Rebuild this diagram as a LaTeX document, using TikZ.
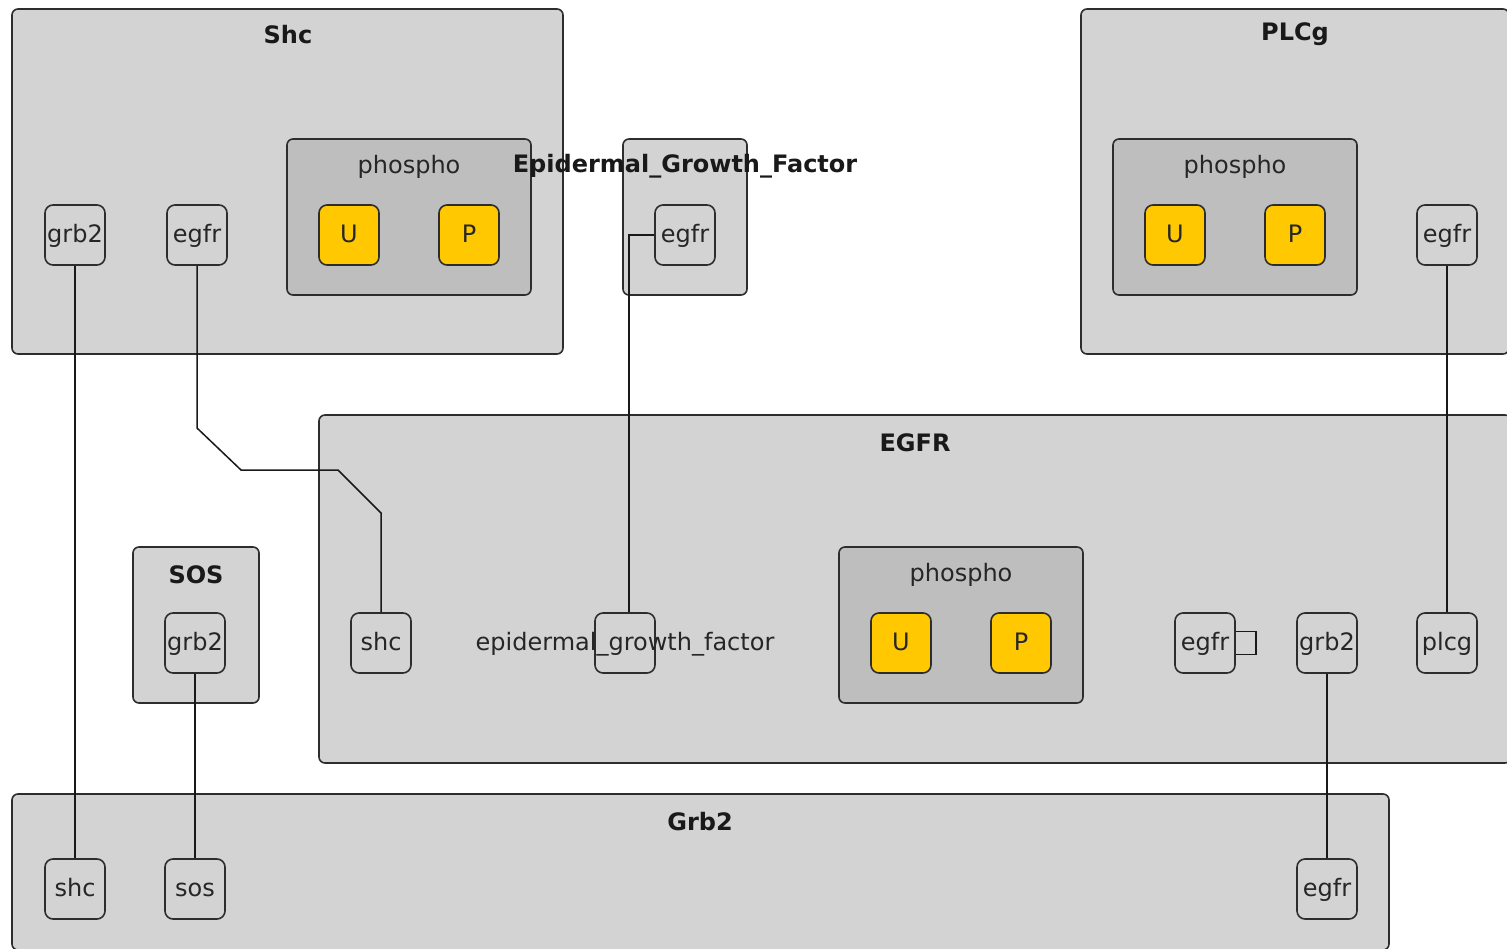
\documentclass[tikz,border=0pt]{standalone}
\usepackage{fontspec}
\setmainfont{DejaVu Sans}
\definecolor{boxgray}{RGB}{211,211,211}
\definecolor{phgray}{RGB}{190,190,190}
\definecolor{siteyellow}{RGB}{255,200,0}
\definecolor{edgedark}{RGB}{45,45,45}
\begin{document}
\begin{tikzpicture}[x=1pt,y=-1pt,
  every node/.style={font=\fontsize{24}{26}\selectfont, inner sep=0pt},
  cbox/.style={draw=edgedark, fill=boxgray, rounded corners=6pt, line width=1.6pt, rectangle},
  pbox/.style={draw=edgedark, fill=phgray, rounded corners=6pt, line width=1.6pt, rectangle},
  site/.style={draw=edgedark, fill=boxgray, rounded corners=8pt, line width=1.6pt, rectangle, minimum width=60pt, minimum height=60pt, text=black!85, text height=17pt, text depth=2pt},
  ysite/.style={site, fill=siteyellow},
  title/.style={font=\fontsize{24}{26}\selectfont\bfseries, text=black!90, yshift=-1.5pt},
  ptitle/.style={font=\fontsize{24}{26}\selectfont, text=black!85, yshift=-1.5pt},
  conn/.style={draw=black!90, line width=1.5pt}
]
\useasboundingbox (0,0) rectangle (1507,949);
\clip (0,0) rectangle (1507,949);
% ---------- Shc ----------
\node[cbox, minimum width=551pt, minimum height=345pt] (Shc) at (287.5,181.5) {};
\node[title] (ShcL) at (288,33) {Shc};
\node[site] (shcGrb2) at (75,235) {grb2};
\node[site] (shcEgfr) at (197,235) {egfr};
\node[pbox, minimum width=244pt, minimum height=156pt] (shcPh) at (409,217) {};
\node[ptitle] (shcPhL) at (409,165) {phospho};
\node[ysite] (shcU) at (349,235) {U};
\node[ysite] (shcP) at (469,235) {P};
% ---------- EGF ----------
\node[cbox, minimum width=124pt, minimum height=156pt] (EGF) at (685,217) {};
\node[site] (egfEgfr) at (685,235) {egfr};
% ---------- PLCg ----------
\node[cbox, minimum width=428pt, minimum height=345pt] (PLCg) at (1295,181.5) {};
\node[title] (PLCgL) at (1295,33) {PLCg};
\node[pbox, minimum width=244pt, minimum height=156pt] (plcgPh) at (1235,217) {};
\node[ptitle] (plcgPhL) at (1235,165) {phospho};
\node[ysite] (plcgU) at (1175,235) {U};
\node[ysite] (plcgP) at (1295,235) {P};
\node[site] (plcgEgfr) at (1447,235) {egfr};
% ---------- EGFR ----------
\node[cbox, minimum width=1192pt, minimum height=348pt] (EGFR) at (915,589) {};
\node[title] (EGFRL) at (915,441) {EGFR};
\node[site] (egfrShc) at (381,643) {shc};
\node[site] (egfrEgf) at (625,643) {};
\node[ptitle] (egfrEgfL) at (625,643) {epidermal\_growth\_factor};
\node[pbox, minimum width=244pt, minimum height=156pt] (egfrPh) at (961,625) {};
\node[ptitle] (egfrPhL) at (961,573) {phospho};
\node[ysite] (egfrU) at (901,643) {U};
\node[ysite] (egfrP) at (1021,643) {P};
\node[site] (egfrEgfr) at (1205,643) {egfr};
\node[site] (egfrGrb2) at (1327,643) {grb2};
\node[site] (egfrPlcg) at (1447,643) {plcg};
% ---------- SOS ----------
\node[cbox, minimum width=126pt, minimum height=156pt] (SOS) at (196,625) {};
\node[title] (SOSL) at (196,573) {SOS};
\node[site] (sosGrb2) at (195,643) {grb2};
% ---------- Grb2 ----------
\node[cbox, minimum width=1377pt, minimum height=156pt] (Grb2) at (700.5,872) {};
\node[title] (Grb2L) at (700,820) {Grb2};
\node[site] (grbShc) at (75,889) {shc};
\node[site] (grbSos) at (195,889) {sos};
\node[site] (grbEgfr) at (1327,889) {egfr};
% ---------- connectors ----------
\draw[conn] (shcGrb2.south) -- (grbShc.north);
\draw[conn] (shcEgfr.south) -- (197,428) -- (241,470) -- (338,470) -- (381,513) -- (egfrShc.north);
\draw[conn] (egfEgfr.west) -| ([xshift=4pt]egfrEgf.north);
\draw[conn] (plcgEgfr.south) -- (egfrPlcg.north);
\draw[conn] (sosGrb2.south) -- (grbSos.north);
\draw[conn] (egfrGrb2.south) -- (grbEgfr.north);
\coordinate (loopA) at ([xshift=20pt,yshift=11.5pt]egfrEgfr.east);
\coordinate (loopB) at ([xshift=20pt,yshift=-11.5pt]egfrEgfr.east);
\draw[conn] ([yshift=11.5pt]egfrEgfr.east) -- (loopA) -- (loopB) -- ([yshift=-11.5pt]egfrEgfr.east);
% label on top
\node[title] (EGFL) at (685,165) {Epidermal\_Growth\_Factor};
\end{tikzpicture}
\end{document}
